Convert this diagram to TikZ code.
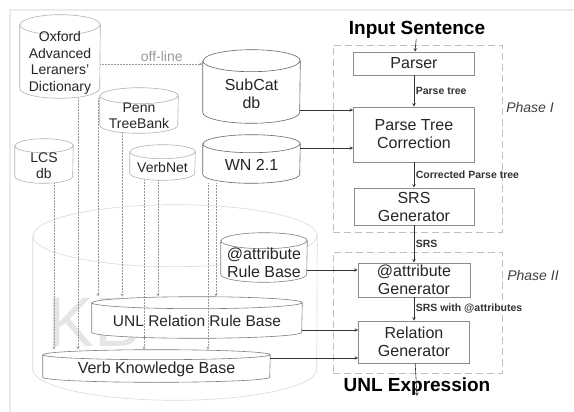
\documentclass[tikz,border=0pt]{standalone}
\usepackage{fontspec}
\setmainfont{Liberation Sans}
\usetikzlibrary{arrows.meta,positioning}

% a drum: [line colour] name, centre, width, height, cap radius, text style, text
\newcommand{\drum}[8][black!30]{%
  \draw[drumline, draw=#1] (#3) node[drumbox, minimum width=#4, minimum height=#5] (#2) {}
    ([yshift=-#6pt]#2.north west) -- ([yshift=#6pt]#2.south west)
    arc[start angle=180, end angle=360, x radius=#4/2, y radius=#6]
    -- ([yshift=-#6pt]#2.north east)
    arc[start angle=0, end angle=180, x radius=#4/2, y radius=#6] -- cycle
    ([yshift=-#6pt]#2.north west)
    arc[start angle=180, end angle=360, x radius=#4/2, y radius=#6]
    ([yshift={-0.65*#6pt}]#2.center) node[drumtext, #7] (#2t) {#8};
}

\begin{document}
\begin{tikzpicture}[x=1pt,y=1pt,
  stage/.style={rectangle, draw=black!45, line width=0.6pt, fill=white,
    font=\fontsize{16}{18}\selectfont, text=black!85, align=center, inner sep=1pt},
  drumline/.style={line width=0.6pt, fill=white},
  drumbox/.style={rectangle, inner sep=0pt},
  drumtext/.style={text=black!85, align=center, inner sep=0pt},
  small/.style={font=\fontsize{14}{16.5}\selectfont},
  large/.style={font=\fontsize{16}{18}\selectfont},
  phase/.style={rectangle, draw=black!25, dash pattern=on 7pt off 4pt,
    line width=0.8pt},
  phasename/.style={font=\itshape\fontsize{14}{16}\selectfont, text=black!75},
  ioname/.style={font=\bfseries\fontsize{19}{20}\selectfont, inner sep=0pt},
  flow/.style={-stealth, line width=0.6pt, color=black!80},
  feed/.style={-stealth, densely dotted, line width=0.5pt, color=black!40},
  tag/.style={font=\bfseries\fontsize{10.5}{12}\selectfont, inner sep=1.5pt}
]
\useasboundingbox (0,0) rectangle (574,-412);
\draw[black!8, line width=2pt] (10,-412) -- (10,-10) -- (574,-10);

% knowledge base
\drum[black!15]{kb}{175,-302.5}{284}{195}{31}{small}{}
\node[font=\fontsize{70}{70}\selectfont, text=black!10] (kbname) at (94,-322) {KB};

% resources
\drum{oxford}{60,-56.5}{80}{83}{10}{small}{Oxford\\Advanced\\Leraners'\\Dictionary}
\drum[black!60]{subcat}{251.5,-86.5}{97}{73}{11}{large}{SubCat\\db}
\drum{penn}{139,-110.5}{78}{45}{8}{small}{Penn\\TreeBank}
\drum{lcs}{44,-161}{58}{44}{7}{small}{LCS\\db}
\drum{verbnet}{162.5,-162.5}{65}{35}{7}{small}{VerbNet}
\drum[black!60]{wn}{251.5,-159}{97}{48}{9}{large}{WN 2.1}
\drum[black!50]{attrrb}{264,-257.5}{86}{49}{8}{large}{@attribute\\Rule Base}
\drum[black!50]{unlrrb}{197,-317.5}{210}{41}{6}{font=\fontsize{15.5}{18}\selectfont}{UNL Relation Rule Base}
\drum[black!50]{verbkb}{156.5,-366}{227}{32}{5}{large}{Verb Knowledge Base}

% phases
\node[phase, minimum width=169, minimum height=187] (ph1) at (417.5,-138.5) {};
\node[phase, minimum width=169, minimum height=121] (ph2) at (417.5,-312.5) {};
\node[phasename] (ph1name) at (530,-107) {Phase I};
\node[phasename] (ph2name) at (533,-275) {Phase II};

% pipeline
\node[ioname] (insent) at (417,-30) {Input Sentence};
\node[stage, minimum width=121, minimum height=23] (parser) at (414,-63.5) {Parser};
\node[stage, minimum width=121, minimum height=55] (ptc) at (414,-134.5) {Parse Tree\\Correction};
\node[stage, minimum width=120, minimum height=37] (srsgen) at (414,-206.5) {SRS\\Generator};
\node[stage, minimum width=112, minimum height=34] (attrgen) at (414,-280) {@attribute\\Generator};
\node[stage, minimum width=111, minimum height=42] (relgen) at (414,-342) {Relation\\Generator};
\node[ioname] (unlexpr) at (417,-387) {UNL Expression};

\draw[flow] (insent) -- (parser);
\draw[flow] (parser) -- node[tag, right] {Parse tree} (ptc);
\draw[flow] (ptc) -- node[tag, right] {Corrected Parse tree} (srsgen);
\draw[flow] (srsgen) -- node[tag, right] {SRS} (attrgen);
\draw[flow] (attrgen) -- node[tag, right] {SRS with @attributes} (relgen);
\draw[flow] (relgen) -- (unlexpr.south);

% resources into the pipeline
\coordinate (in1) at ([yshift=24.5pt]ptc.west);
\coordinate (in2) at ([yshift=-13.5pt]ptc.west);
\coordinate (in3) at ([yshift=10pt]attrgen.west);
\coordinate (in4) at ([yshift=12pt]relgen.west);
\coordinate (in5) at ([yshift=-16pt]relgen.west);
\draw[flow] (subcat.east |- in1) -- (in1);
\draw[flow] (wn.east |- in2) -- (in2);
\draw[flow] (attrrb.east |- in3) -- (in3);
\draw[flow] (unlrrb.east |- in4) -- (in4);
\draw[flow] (verbkb.east |- in5) -- (in5);

% off-line extraction
\coordinate (offl) at ([yshift=-7.5pt]oxford.east);
\draw[feed] (offl) -- node[pos=0.6, above, inner sep=2pt, text=black!40,
  font=\fontsize{14}{16}\selectfont] {off-line} (offl -| subcat.west);

% resources into the knowledge bases
\foreach \src/\dx/\dst in {oxford/18/verbkb, oxford/38/unlrrb, lcs/10/verbkb,
    penn/-17/unlrrb, verbnet/-18.5/verbkb, verbnet/-4.5/unlrrb,
    wn/-43.5/verbkb, wn/-35.5/unlrrb}
  {\coordinate (from) at ([xshift=\dx pt]\src.south);
   \draw[feed] (from) -- (from |- \dst.north);}
\end{tikzpicture}
\end{document}
